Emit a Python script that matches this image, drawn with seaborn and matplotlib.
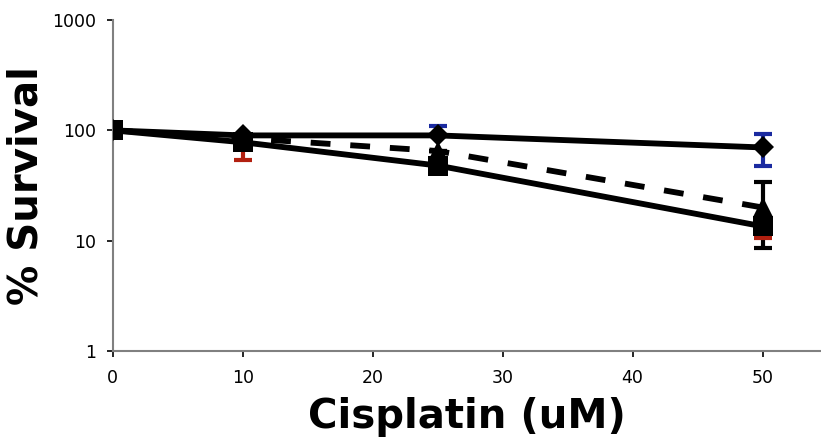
"""
Cisplatin dose response: % survival on a log scale for three lines,
with Excel-style error bars.
"""
import matplotlib
matplotlib.use("Agg")
import matplotlib.pyplot as plt
import matplotlib.ticker as mticker
import numpy as np
import pandas as pd
import seaborn as sns

dose = [0, 10, 25, 50]

survival_diamond = [100, 90, 90, 70]
survival_triangle = [100, 85, 65, 20]
survival_square = [100, 78, 48, 13.5]

# (minus, plus) error bars as far as they can be seen in the picture
err_diamond = ([0, 0, 0, 22], [0, 0, 20, 22])
err_triangle = ([0, 0, 0, 11.5], [0, 0, 0, 14])
err_square = ([0, 24, 0, 3], [0, 0, 0, 0])

y_ticks = [1, 10, 100, 1000]
x_ticks = [0, 10, 20, 30, 40, 50]

sns.set_theme(style="white")
plt.rcParams["font.family"] = ["DejaVu Sans"]

fig = plt.figure(figsize=(8.21, 4.41), dpi=100)
ax = fig.add_axes([0.1373, 0.204, 0.8627, 0.7506])

series = [
    ("diamond", survival_diamond, err_diamond, "D", "-", "#1a2aa0", 11.5),
    ("triangle", survival_triangle, err_triangle, "^", (0, (3.4, 3.4)), "black", 15),
    ("square", survival_square, err_square, "s", "-", "#b22010", 15),
]

for name, vals, errs, marker, ls, ecolor, msize in series:
    df = pd.DataFrame({"dose": dose, "survival": vals})
    ax.errorbar(df["dose"], df["survival"], yerr=np.array(errs), fmt="none",
                ecolor=ecolor, elinewidth=3, capsize=6.8, capthick=3, zorder=1)
    sns.lineplot(data=df, x="dose", y="survival", ax=ax, color="black",
                 linewidth=4.2, linestyle=ls, marker=marker, markersize=msize,
                 markeredgewidth=0, errorbar=None, zorder=3)

ax.set_yscale("log")
ax.set_ylim(1, 1000)
ax.set_xlim(0, 54.5)
ax.set_yticks(y_ticks)
ax.set_xticks(x_ticks)
ax.yaxis.set_major_formatter(mticker.FuncFormatter(lambda v, _: f"{v:g}"))
ax.yaxis.set_minor_locator(mticker.NullLocator())

for side in ["top", "right"]:
    ax.spines[side].set_visible(False)
for side in ["left", "bottom"]:
    ax.spines[side].set_color("#808080")
    ax.spines[side].set_linewidth(1.5)

ax.tick_params(axis="both", bottom=True, left=True, direction="out",
               length=4, width=1.2, color="black", labelsize=12.5,
               labelcolor="black")
ax.tick_params(axis="x", pad=9)
ax.tick_params(axis="y", pad=8)

ax.set_xlabel("Cisplatin (uM)", fontsize=29, fontweight="bold",
              color="black", labelpad=7)
ax.set_ylabel("% Survival", fontsize=29, fontweight="bold",
              color="black", labelpad=4)

fig.savefig("out.png", dpi=100)
